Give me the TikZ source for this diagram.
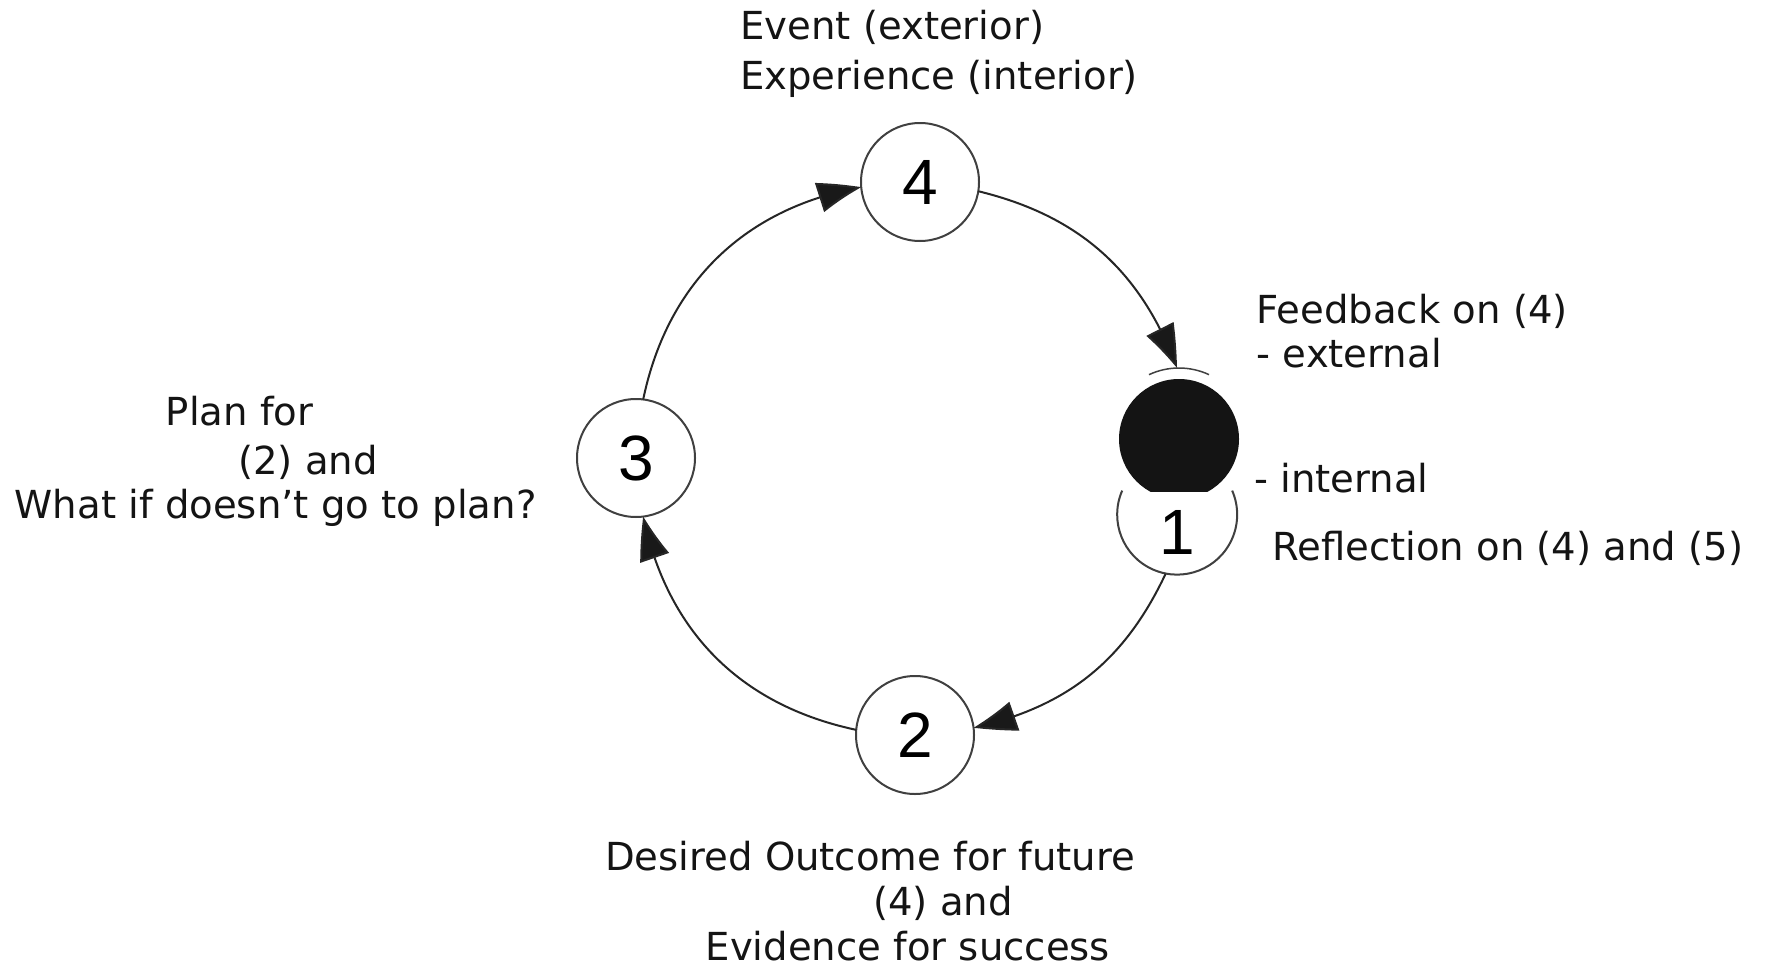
\documentclass[tikz,border=0pt]{standalone}
\usepackage{fontspec}
\setmainfont{DejaVu Sans}
\newfontfamily\digitfont{Liberation Sans}
\usetikzlibrary{arrows.meta,bending}
\begin{document}
\begin{tikzpicture}[x=1pt,y=1pt,
  numcirc/.style={circle, draw=black!75, line width=2pt, minimum size=118pt, inner sep=0pt, outer sep=0pt, font=\digitfont\fontsize{64}{64}\selectfont},
  digit/.style={inner sep=0pt, font=\digitfont\fontsize{64}{64}\selectfont},
  lbl/.style={anchor=base west, inner sep=0pt, font=\fontsize{38.6}{48}\selectfont, text=black!92},
  conn/.style={draw=black!85, line width=2pt, -{Triangle[length=44pt,width=30pt,bend,fill=black!90]}},
]
\fill[white] (0,0) rectangle (1767,-966);
\useasboundingbox (0,0) rectangle (1767,-966);

% numbered circles
\node[numcirc] (n4) at (920,-182) {4};
\node[numcirc] (n3) at (636,-458) {3};
\node[numcirc] (n2) at (915,-735) {2};
\node[numcirc, minimum size=120pt, draw=none] (n1) at (1177,-515) {};
\node[digit] (t1) at (1177,-532) {1};
\draw[draw=black!75, line width=2pt] (n1.156.4) arc[start angle=156.4, end angle=383.6, radius=60];

% black feedback disc, flat at the bottom
\begin{scope}
  \clip (1100,-491) rectangle (1260,-370);
  \node[circle, fill=black!92, minimum size=120pt, inner sep=0pt, outer sep=0pt] (fbk) at (1179,-439) {};
\end{scope}
\draw[black!75, line width=1.5pt] (fbk.center) ++(65:71) arc[start angle=65, end angle=115, radius=71];
\coordinate (fb) at (1177,-368);

% connectors
\draw[conn] (n3.83) to[bend left=34] (n4.185);
\draw[conn] (n4.351) to[bend left=28] (fb);
\draw[conn] (n1.259) to[bend left=26] (n2.7);
\draw[conn] (n2.175) to[bend left=33] (n3.277);

% texts
\node[lbl] (ev) at (740,-40) {Event (exterior)};
\node[lbl] (ex) at (740,-89.5) {Experience (interior)};
\node[lbl] (fa) at (1256.5,-323) {Feedback on (4)};
\node[lbl] (fe) at (1256.5,-367) {- external};
\node[lbl] (fi) at (1254,-492) {- internal};
\node[lbl] (rf) at (1272,-560) {Reflection on (4) and (5)};
\node[lbl] (pa) at (165.6,-425) {Plan for};
\node[lbl] (pb) at (238,-474) {(2) and};
\node[lbl] (pc) at (14.6,-518) {What if doesn’t go to plan?};
\node[lbl] (da) at (605,-870) {Desired Outcome for future};
\node[lbl] (db) at (873,-915) {(4) and};
\node[lbl] (dc) at (705.5,-960) {Evidence for success};
\end{tikzpicture}
\end{document}
